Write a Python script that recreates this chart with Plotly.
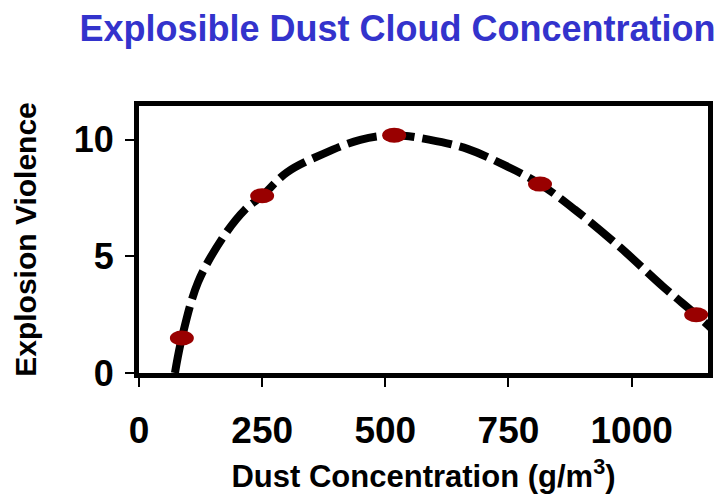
import plotly.graph_objects as go

# measured data points (red markers)
pt_conc = [87, 250, 518, 814, 1131]
pt_violence = [1.5, 7.6, 10.2, 8.1, 2.5]

# dashed trend curve
curve_conc = [73, 87, 120, 170, 215, 250, 300, 374, 449, 518, 591, 668, 743, 814, 885, 976, 1064, 1131, 1173]
curve_violence = [0.0, 1.5, 3.9, 5.8, 7.0, 7.6, 8.6, 9.4, 10.0, 10.2, 10.0, 9.6, 8.9, 8.1, 7.0, 5.4, 3.7, 2.5, 1.7]

x_ticks = [0, 250, 500, 750, 1000]
y_ticks = [0, 5, 10]

FONT = "Liberation Sans, Arial, sans-serif"

fig = go.Figure()
fig.add_trace(go.Scatter(
    x=curve_conc, y=curve_violence, mode="lines",
    line=dict(color="black", width=8, dash="30px,8px", shape="spline", smoothing=1.0),
    hoverinfo="skip", showlegend=False,
))
fig.add_trace(go.Scatter(
    x=pt_conc, y=pt_violence, mode="markers",
    marker=dict(color="rgba(0,0,0,0)", size=1),
    showlegend=False,
))

shapes = []
for xv, yv in zip(pt_conc, pt_violence):
    shapes.append(dict(
        type="circle", xref="x", yref="y",
        xsizemode="pixel", ysizemode="pixel",
        xanchor=xv, yanchor=yv,
        x0=-12, x1=12, y0=-7.5, y1=7.5,
        fillcolor="#990000", line=dict(width=0), layer="above",
    ))

fig.update_layout(
    width=726, height=494,
    margin=dict(l=139, r=18, t=106, b=121),
    paper_bgcolor="white", plot_bgcolor="white",
    shapes=shapes,
    title=dict(
        text="<b>Explosible Dust Cloud Concentration</b>",
        font=dict(family=FONT, size=36, color="#3333cc"),
        x=0.5475, xanchor="center", y=0.943, yanchor="middle",
    ),
    xaxis=dict(
        range=[0, 1155], tickvals=x_ticks, ticktext=[f"<b>{v}</b>" for v in x_ticks],
        showgrid=False, zeroline=False, automargin=False,
        showline=True, linecolor="black", linewidth=5, mirror=True,
        ticks="outside", ticklen=9, tickwidth=2, tickcolor="black",
        ticklabelstandoff=12,
        tickfont=dict(family=FONT, size=37, color="black"),
        title=dict(text="<b>Dust Concentration (g/m<sup>3</sup>)</b>",
                   font=dict(family=FONT, size=31, color="black"), standoff=17),
    ),
    yaxis=dict(
        range=[0, 11.45], tickvals=y_ticks, ticktext=[f"<b>{v}</b>" for v in y_ticks],
        showgrid=False, zeroline=False, automargin=False,
        showline=True, linecolor="black", linewidth=5, mirror=True,
        ticks="outside", ticklen=9, tickwidth=2, tickcolor="black",
        ticklabelstandoff=4,
        tickfont=dict(family=FONT, size=36, color="black"),
        title=dict(text="<b>Explosion Violence</b>",
                   font=dict(family=FONT, size=30, color="black"), standoff=30),
    ),
)

fig.write_html("out.html")
